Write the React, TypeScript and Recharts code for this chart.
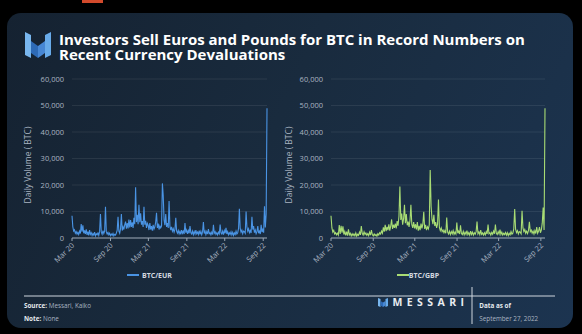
import React from 'react';
import { LineChart, Line, XAxis, YAxis, CartesianGrid, Legend } from 'recharts';

const START_DATE = '2020-03-01';
const STEP_DAYS = 4;
const xTickDates = ['2020-03-01', '2020-09-01', '2021-03-01', '2021-09-01', '2022-03-01', '2022-09-01'];
const xTickLabels = ['Mar 20', 'Sep 20', 'Mar 21', 'Sep 21', 'Mar 22', 'Sep 22'];
const yTicks = [0, 10000, 20000, 30000, 40000, 50000, 60000];

const eurVolume = [
  8400, 4200, 2600, 3100, 1800, 2400, 1500, 2100,
  1300, 2600, 1700, 5300, 2400, 4800, 1800, 2900,
  1500, 3300, 1200, 2400, 1000, 3000, 1400,
  2000, 900, 1700, 1100, 2200, 800, 1600, 1200,
  1900, 1000, 2500, 9000, 2200, 1400, 2800,
  1700, 2600, 11800, 2400, 1500, 2100, 1200, 1800,
  900, 1500, 1000, 1700, 800, 1400, 1100, 1900,
  3000, 8000, 2600, 1800, 3500, 9000, 2800, 4200,
  3200, 5000, 6200, 3500, 5600, 3600, 7000,
  4000, 6800, 4200, 5900, 3800, 7600, 5200,
  19100, 6000, 8800, 5200, 12500, 6000, 9300, 5000, 6400,
  4200, 11800, 5000, 6500, 3800, 5500,
  4800, 3000, 5600, 3200, 4500, 2800, 5000, 3400,
  4200, 6000, 9500, 3800, 5400, 3200, 4600, 3800,
  4500, 20600, 16000, 6800, 4800, 9000, 4200, 5600,
  3800, 14000, 4500, 3000, 4200, 2600, 3500,
  2200, 3200, 7600, 2600, 1800, 2800, 1600, 2500,
  1400, 3000, 1800, 2600, 1500, 5600, 2000, 3000,
  1600, 2800, 1800, 4500, 2000, 1500, 2600, 1300,
  2400, 1500, 3000, 1600, 2200, 1300, 2800,
  1400, 2500, 1200, 2200, 6000, 1700, 2600, 1300,
  2400, 1500, 3400, 1600, 2000, 1200, 2200,
  1300, 5000, 1800, 2400, 1400, 2000, 1200, 2200,
  1600, 5100, 2000, 1500, 2600, 1300, 2800,
  1800, 3800, 1500, 2400, 1200, 2000, 1400, 2300,
  1200, 2100, 1000, 1900, 1300, 2600, 1500,
  2000, 3600, 11000, 3500, 2200, 3000, 1600, 2600,
  2400, 1800, 10000, 4200, 2600, 3500, 2000,
  2800, 1900, 8000, 3200, 4500, 2000, 3000, 1600,
  2400, 4500, 1800, 2600, 1500, 5000, 2200, 3200,
  2000, 12000, 4000, 9000, 49000,
];

const gbpVolume = [
  8400, 3800, 2200, 2900, 1500, 2000, 1200, 1800,
  1100, 4900, 1500, 4600, 2000, 4400, 1300, 2500,
  1000, 2400, 900, 3300, 1200, 1800, 800,
  1600, 900, 1500, 800, 1900, 700, 1400, 1000,
  2200, 1200, 4500, 1800, 1100, 2300, 1300, 1900,
  1000, 1600, 900, 2200, 1100, 3000, 1300,
  800, 1500, 900, 1300, 700, 1600, 1100, 2000,
  1500, 2600, 1800, 4000, 2400, 5000, 2600, 4200,
  3000, 5200, 2800, 4500, 7000, 3400, 5000,
  3800, 5400, 3600, 6400, 4600, 8200,
  19400,
  6800, 9200, 5000, 7200, 12500, 5600, 9000, 4800, 6200,
  4200, 6600, 12500, 5000, 3800, 6000, 3600,
  5200, 3200, 6000, 2800, 4600, 3000, 5400,
  3600, 5200, 9900, 3400, 5000, 3000, 4200, 3400,
  5000, 25700, 12000, 7000, 5200, 8800, 4500, 6000,
  3800, 5200, 14500, 4000, 2800, 3800, 2400,
  3000, 2000, 2800, 1800, 7700, 2200, 1500, 2600,
  1300, 2400, 1600, 2800, 1400, 2200, 1500, 5800,
  1800, 2600, 1500, 4800, 1700, 1300, 2500, 1200,
  2200, 1400, 2800, 1300, 2000, 1100, 2600,
  1300, 2200, 1100, 2000, 1400, 2400, 6200, 1600,
  2300, 1300, 3000, 1400, 1900, 1100, 2000,
  1200, 2400, 1500, 5100, 1600, 2000, 1100, 2100,
  1400, 2600, 1600, 5100, 1800, 1300, 2400,
  1500, 3200, 1300, 2200, 1100, 1800, 1300, 2100,
  1100, 2000, 900, 1800, 1200, 2400, 1400,
  1800, 3400, 10900, 3200, 2000, 2800, 1500, 2400,
  2200, 1600, 10300, 3800, 2400, 3200, 1800,
  2600, 1700, 2800, 6100, 2400, 3000, 1800, 2600,
  1500, 2800, 1700, 4100, 1800, 2600, 4100, 2000,
  3000, 5600, 11500, 3000, 49000,
];

const DAY_MS = 86400000;
const t0 = Date.parse(START_DATE + 'T00:00:00Z');
const rows = eurVolume.map((v, i) => ({ t: t0 + i * STEP_DAYS * DAY_MS, eur: v, gbp: gbpVolume[i] }));
const tickTimes = xTickDates.map((d) => Date.parse(d + 'T00:00:00Z'));
const tEnd = rows[rows.length - 1].t;

const FONT = "'Open Sans', 'DejaVu Sans', sans-serif";
const TICK_FILL = '#aab4c1';

function XTick(props: any) {
  const { x, y, payload } = props;
  const idx = tickTimes.indexOf(payload.value);
  return (
    <g transform={`translate(${x + 1},${y + 1})`}>
      <text textAnchor="end" transform="rotate(-45)" dy="0.35em" fontSize={7.5} fill={TICK_FILL} fontFamily={FONT}>
        {xTickLabels[idx]}
      </text>
    </g>
  );
}

function makeLegend(gap: number) {
  return (props: any) => {
    const item = (props.payload || [])[0];
    if (!item) return null;
    return (
      <div style={{ display: 'flex', justifyContent: 'center', alignItems: 'center', height: 14, fontFamily: FONT, fontSize: 7, fontWeight: 700, color: '#d3d9e0' }}>
        <span style={{ display: 'inline-block', width: 12, height: 1.5, background: item.color, marginRight: gap }} />
        <span>{item.value}</span>
      </div>
    );
  };
}

function Panel(props: { left: number; width: number; dataKey: string; name: string; color: string; mLeft: number; mRight: number; gap: number }) {
  const { left, width, dataKey, name, color, mLeft, mRight, gap } = props;
  return (
    <div style={{ position: 'absolute', left, top: 65 }}>
      <LineChart width={width} height={225} data={rows} margin={{ top: 14, right: mRight, left: mLeft, bottom: 8 }}>
        <CartesianGrid horizontal vertical={false} stroke="rgba(255,255,255,0.08)" />
        <XAxis
          dataKey="t"
          type="number"
          domain={[t0, tEnd]}
          ticks={tickTimes}
          interval={0}
          tick={<XTick />}
          tickSize={3}
          tickMargin={2}
          height={30}
          axisLine={{ stroke: '#9aa6b4' }}
          tickLine={{ stroke: '#9aa6b4' }}
        />
        <YAxis
          domain={[0, 60000]}
          ticks={yTicks}
          interval={0}
          width={40}
          axisLine={false}
          tickLine={false}
          tickFormatter={(v: number) => v.toLocaleString('en-US')}
          tick={{ fill: TICK_FILL, fontSize: 7.5, fontFamily: FONT }}
        />
        <Legend verticalAlign="bottom" height={14} content={makeLegend(gap)} />
        <Line type="linear" dataKey={dataKey} name={name} stroke={color} strokeWidth={1.1} dot={false} isAnimationActive={false} />
      </LineChart>
    </div>
  );
}

export default function App() {
  return (
    <div style={{ position: 'fixed', left: 0, top: 0, width: 582, height: 334, background: '#000', overflow: 'hidden' }}>
      <div style={{ position: 'absolute', left: 7, top: 13, width: 566, height: 315, borderRadius: 14, background: 'linear-gradient(115deg, #152231 0%, #192b3e 45%, #1c3450 100%)' }} />
      <div style={{ position: 'absolute', left: 82, top: 0, width: 21, height: 3, background: '#d24a2c' }} />
      <div style={{ position: 'absolute', left: 59, top: 32, width: 490, fontFamily: FONT, fontSize: 15, fontWeight: 700, lineHeight: '15px', color: '#ffffff', whiteSpace: 'normal' }}>
        Investors Sell Euros and Pounds for BTC in Record Numbers on Recent Currency Devaluations
      </div>
      <svg width={582} height={334} style={{ position: 'absolute', left: 0, top: 0 }}>
        <polygon points="25,32 31,35 31,58 25,55" fill="#78b6ee" />
        <polygon points="31,41 38,46 38,58 31,53" fill="#2d6ab6" />
        <polygon points="38,46 45,41 45,53 38,58" fill="#4787d4" />
        <polygon points="45,35 51,32 51,55 45,58" fill="#68abea" />
        <text transform="translate(31,165) rotate(-90)" textAnchor="middle" fontSize={8.5} fill={TICK_FILL} fontFamily={FONT}>
          Daily Volume ( BTC)
        </text>
        <text transform="translate(292,165) rotate(-90)" textAnchor="middle" fontSize={8.5} fill={TICK_FILL} fontFamily={FONT}>
          Daily Volume ( BTC)
        </text>
        <line x1={24} y1={296} x2={555} y2={296} stroke="#cfd6de" strokeWidth={1} />
        <line x1={472} y1={287} x2={472} y2={324} stroke="#cfd6de" strokeWidth={1} />
        <text x={24} y={307.5} fontSize={6.3} fontFamily={FONT} fill="#aab4c1">
          <tspan fontWeight={700} fill="#e6eaee">Source:</tspan> Messari, Kaiko
        </text>
        <text x={24} y={320.5} fontSize={6.3} fontFamily={FONT} fill="#aab4c1">
          <tspan fontWeight={700} fill="#e6eaee">Note:</tspan> None
        </text>
        <polygon points="378,298 380.5,299 380.5,307 378,306" fill="#78b6ee" />
        <polygon points="380.5,301 383,302.5 383,307 380.5,305.5" fill="#2d6ab6" />
        <polygon points="383,302.5 385.5,301 385.5,305.5 383,307" fill="#4787d4" />
        <polygon points="385.5,299 388,298 388,306 385.5,307" fill="#68abea" />
        <text x={392.5} y={306} fontSize={10.5} fontWeight={700} fill="#e8ecf0" fontFamily={FONT} textLength={71.5} lengthAdjust="spacing">
          MESSARI
        </text>
        <text x={479.3} y={307.5} fontSize={6.3} fontWeight={700} fill="#e6eaee" fontFamily={FONT}>
          Data as of
        </text>
        <text x={479.3} y={320.5} fontSize={6.3} fill="#aab4c1" fontFamily={FONT}>
          September 27, 2022
        </text>
      </svg>
      <Panel left={20} width={260} dataKey="eur" name="BTC/EUR" color="#4a94e4" mLeft={12} mRight={13} gap={3} />
      <Panel left={290} width={270} dataKey="gbp" name="BTC/GBP" color="#a8dc74" mLeft={1} mRight={15} gap={0} />
    </div>
  );
}
